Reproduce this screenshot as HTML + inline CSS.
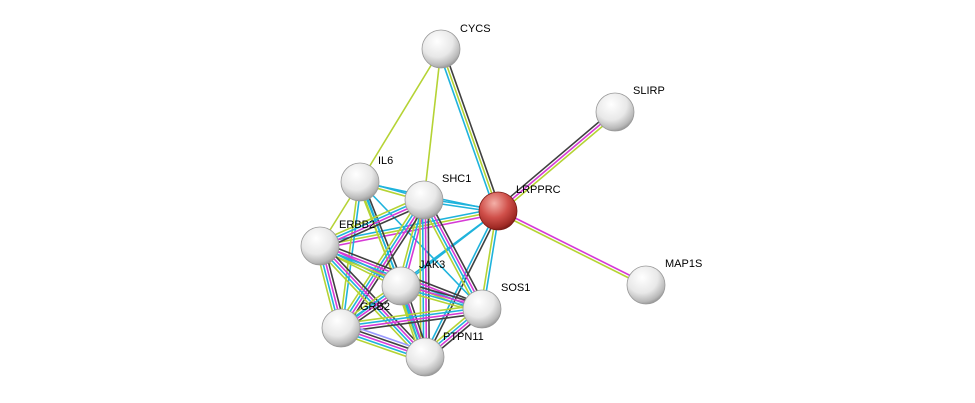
<!DOCTYPE html>
<html><head><meta charset="utf-8"><style>
html,body{margin:0;padding:0;background:#fff;}
svg{display:block;}
text{font-family:"Liberation Sans",sans-serif;font-size:11px;fill:#000;}
</style></head><body>
<svg id="s" width="975" height="403" xmlns="http://www.w3.org/2000/svg">
<defs>
<radialGradient id="gw" cx="0.4" cy="0.3" r="0.75">
<stop offset="0" stop-color="#ffffff"/><stop offset="0.55" stop-color="#e8e8e8"/><stop offset="0.85" stop-color="#b8b8b8"/><stop offset="1" stop-color="#8a8a8a"/></radialGradient>
<radialGradient id="gr" cx="0.4" cy="0.3" r="0.75">
<stop offset="0" stop-color="#f4b0a8"/><stop offset="0.5" stop-color="#d0504a"/><stop offset="0.85" stop-color="#a02a25"/><stop offset="1" stop-color="#6a1512"/></radialGradient>
</defs>
<g id="edges"></g><g id="nodes"></g>
</svg>
<script>
var N={CYCS:[441,49],SLIRP:[615,112],IL6:[360,182],SHC1:[424,200],LRPPRC:[498,211],ERBB2:[320,246],JAK3:[401,286],SOS1:[482,309],GRB2:[341,328],PTPN11:[425,357],MAP1S:[646,285]};
var C={c:"#1fb3dc",y:"#b5d334",m:"#d63ad6",k:"#404040",p:"#9999ff"};
var E=[["CYCS","IL6","y"],["CYCS","SHC1","y"],["CYCS","LRPPRC","kyc"],["LRPPRC","SLIRP","kmy"],["LRPPRC","MAP1S","my"],
["LRPPRC","SHC1","cc"],["LRPPRC","IL6","c"],["LRPPRC","ERBB2","myc"],["LRPPRC","SOS1","cy"],["LRPPRC","PTPN11","kc"],["LRPPRC","GRB2","c"],["LRPPRC","JAK3","c"],
["IL6","SHC1","cy"],["IL6","ERBB2","y"],["IL6","JAK3","kcy"],["IL6","GRB2","cy"],["IL6","PTPN11","cy"],["IL6","SOS1","c"],
["SHC1","ERBB2","kmcy"],["SHC1","JAK3","mcy"],["SHC1","SOS1","kmcy"],["SHC1","GRB2","kmcy"],["SHC1","PTPN11","kmcy"],
["ERBB2","JAK3","mcy"],["ERBB2","SOS1","kmcy"],["ERBB2","GRB2","kmcy"],["ERBB2","PTPN11","kmcy"],
["JAK3","SOS1","kmcy"],["JAK3","GRB2","kmcy"],["JAK3","PTPN11","kmcy"],
["SOS1","GRB2","kmcy"],["SOS1","PTPN11","kmcy"],["GRB2","PTPN11","pkmcy"]];
var ns="http://www.w3.org/2000/svg",eg=document.getElementById("edges"),ng=document.getElementById("nodes");
E.forEach(function(e){var a=N[e[0]],b=N[e[1]],dx=b[0]-a[0],dy=b[1]-a[1],L=Math.hypot(dx,dy),px=-dy/L,py=dx/L,n=e[2].length;
for(var i=0;i<n;i++){var o=(i-(n-1)/2)*2.8;var l=document.createElementNS(ns,"line");
l.setAttribute("x1",a[0]+px*o);l.setAttribute("y1",a[1]+py*o);l.setAttribute("x2",b[0]+px*o);l.setAttribute("y2",b[1]+py*o);
l.setAttribute("stroke",C[e[2][i]]);l.setAttribute("stroke-width","1.6");eg.appendChild(l);}});
var lab={CYCS:[460,28],SLIRP:[633,90],IL6:[378,160],SHC1:[442,178],LRPPRC:[516,189],ERBB2:[339,224],JAK3:[419,264],SOS1:[501,287],GRB2:[360,306],PTPN11:[443,336],MAP1S:[665,263]};
for(var k in N){var p=N[k];var c=document.createElementNS(ns,"circle");c.setAttribute("cx",p[0]);c.setAttribute("cy",p[1]);c.setAttribute("r",19);
c.setAttribute("fill",k=="LRPPRC"?"url(#gr)":"url(#gw)");c.setAttribute("stroke",k=="LRPPRC"?"#7a1a15":"#999");c.setAttribute("stroke-width","0.8");ng.appendChild(c);
var t=document.createElementNS(ns,"text");t.setAttribute("x",lab[k][0]);t.setAttribute("y",lab[k][1]+4);t.textContent=k;ng.appendChild(t);}
</script>
</body></html>
